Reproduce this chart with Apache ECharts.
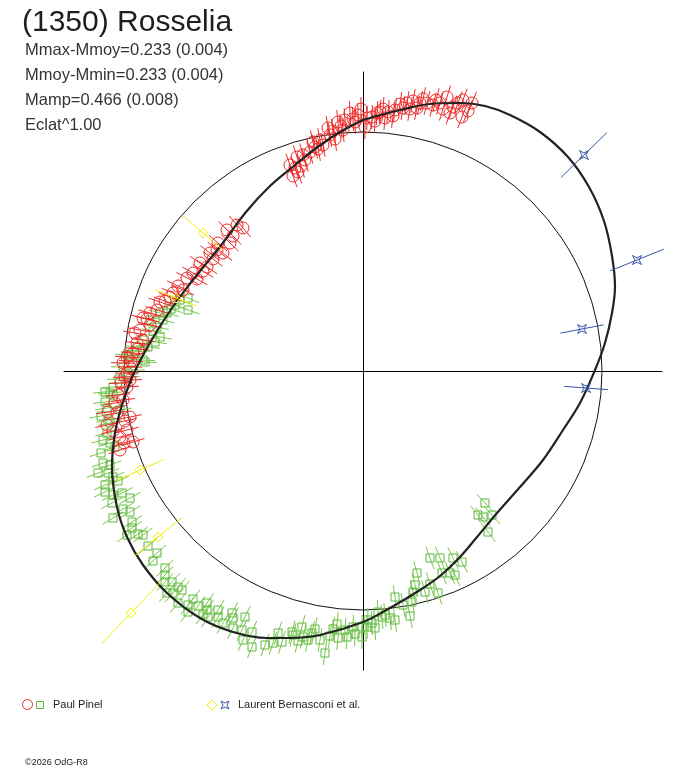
<!DOCTYPE html>
<html>
<head>
<meta charset="utf-8">
<script src="https://cdn.jsdelivr.net/npm/echarts@6/dist/echarts.min.js"></script>
<style>
html,body{margin:0;padding:0;background:#fff;}
#chart{width:688px;height:768px;}
</style>
</head>
<body>
<div id="chart"></div>
<script>
// ---- Data (polar lightcurve plot, units: reference circle radius = 239) ----
const title = "(1350) Rosselia";
const infoLines = ["Mmax-Mmoy=0.233 (0.004)", "Mmoy-Mmin=0.233 (0.004)", "Mamp=0.466 (0.008)", "Eclat^1.00"];
const observers = ["Paul Pinel", "Laurent Bernasconi et al."];
const copyright = "\u00A92026 OdG-R8";

const refRadius = 239;
const axisExtent = 299;
const pinelErr = 12;

// Paul Pinel, session 1 (red circles) [x, y]
const redPoints = [
  [-68,203],[-73,206],[-65,199],[-66,214],[-60,216],[-53,219],[-50,229],[-43,231],[-45,222],[-33,236],
  [-35,243],[-25,249],[-18,251],[-13,258],[-5,256],[2,244],[4,253],[9,254],[17,259],[25,259],
  [32,261],[40,263],[37,267],[44,268],[50,270],[57,268],[64,268],[70,266],[77,268],[84,274],
  [87,258],[90,264],[99,254],[100,271],[109,268],[-20,241],[-40,226],[-58,211],[-8,249],[22,253],[54,263],
  [-70,195],[-62,205],[-48,224],[-30,240],[-22,245],[-10,252],[12,250],[20,262],[30,255],[47,262],
  [60,272],[73,271],[80,262],[95,268],[105,260],[-28,232],[-2,262],[14,258],
  [-120,143],[-126,146],[-136,141],[-133,128],[-146,121],[-140,118],[-153,118],[-163,108],[-156,104],[-170,98],
  [-176,93],[-180,81],[-193,74],[-203,69],[-206,61],[-213,58],[-220,53],[-213,46],[-223,41],[-220,31],
  [-226,28],[-230,18],[-236,14],[-240,8],[-233,4],[-238,-6],[-236,-16],[-233,-9],
  [-130,135],[-145,128],[-150,112],[-160,100],[-166,92],[-185,85],[-190,78],[-198,70],[-216,52],[-228,38],
  [-225,22],[-232,10],[-236,-2],[-242,-12],
  [-255,-41],[-246,-42],[-233,-46],[-256,-54],[-236,-59],[-243,-66],[-230,-71],[-243,-79],[-240,-29],[-245,-24],
  [-248,-32],[-238,-50],[-250,-60],[-239,-72]
];

// Paul Pinel, session 2 (green squares) [x, y]
const greenPoints = [
  [-175,73],[-183,71],[-175,61],[-188,66],[-196,58],[-203,58],[-200,51],[-206,44],[-213,51],[-203,34],
  [-208,29],[-220,31],[-215,24],[-226,24],[-218,9],[-220,11],[-236,16],[-233,14],[-240,4],[-230,1],
  [-235,-6],[-258,-21],[-253,-22],[-250,-16],[-250,-24],[-258,-31],[-256,-37],[-243,-39],[-255,-49],[-253,-52],
  [-256,-62],[-253,-72],[-260,-69],[-248,-76],[-260,-92],[-253,-94],[-265,-102],[-255,-102],[-250,-106],[-258,-114],
  [-258,-121],[-250,-124],[-241,-122],[-233,-127],[-251,-132],[-233,-141],[-250,-147],[-231,-151],[-231,-157],[-236,-164],
  [-225,-163],[-220,-164],[-206,-182],[-198,-197],[-198,-204],[-198,-211],[-191,-211],[-196,-222],[-190,-222],[-181,-219],
  [-185,-232],[-175,-234],[-175,-241],[-165,-235],[-156,-232],[-156,-239],[-155,-246],[-145,-239],[-145,-246],[-131,-242],
  [-130,-247],[-118,-246],[-130,-257],[-121,-259],[-111,-261],[-120,-269],[-111,-276],[-98,-274],[-90,-272],[-81,-271],
  [-71,-261],[-61,-256],[-70,-264],[-60,-266],[-51,-262],[-55,-269],[-43,-269],[-38,-282],[-33,-265],[-26,-253],
  [-25,-267],[-16,-266],[-18,-259],[-10,-256],[-1,-266],[-1,-256],[4,-256],[12,-257],[9,-252],[15,-241],
  [19,-246],[27,-247],[32,-249],[22,-244],[32,-226],[40,-234],[47,-245],[49,-231],[50,-221],[52,-214],
  [54,-202],[62,-221],[67,-213],[75,-222],[67,-187],[77,-187],[79,-202],[87,-202],[90,-187],[92,-204],
  [99,-191],[122,-132],[120,-146],[129,-144],[125,-161],[115,-144],
  [-85,-262],[-65,-270],[-48,-258],[-30,-258],[-8,-263],[5,-249],[-140,-252],[-160,-243],[-170,-228],[-185,-216],
  [-210,-190],[-215,-175],[-240,-138],[-245,-110],[-262,-82],[-192,62],[-210,40],[-228,20],[-244,-8],[-262,-45]
];

// Laurent Bernasconi et al. (yellow diamonds) [x, y, error]
const yellowPoints = [
  [-160,138,26],[-187,73,22],[-223,-99,26],[-205,-166,31],[-232,-242,43]
];

// Laurent Bernasconi et al. (blue stars) [x, y, error]
const bluePoints = [
  [221,216,32],[274,111,29],[219,42,22],[223,-17,22]
];

// Fitted lightcurve [x, y]
const fitCurve = [
  [0,251],[37,261],[67,267],[97,268],[122,265],[147,256],[177,239],[205,214],[226,184],[241,150],
  [249,115],[252,84],[249,58],[242,28],[232,1],[217,-32],[200,-59],[180,-89],[157,-116],[134,-142],
  [114,-166],[97,-186],[77,-205],[57,-219],[27,-237],[0,-251],[-43,-264],[-73,-267],[-96,-267],[-130,-261],
  [-163,-247],[-196,-222],[-220,-194],[-236,-166],[-246,-136],[-251,-96],[-248,-62],[-241,-34],[-232,-9],[-222,12],
  [-209,35],[-191,63],[-174,86],[-158,106],[-141,127],[-117,159],[-93,185],[-68,206],[-44,225],[-23,239],[0,251]
];

// ---- Styles ----
const RED = '#ee2a2a';
const GREEN = '#5cb83c';
const GREEN_BAR = '#78c846';
const YELLOW = '#f2ee00';
const BLUE = '#3a58a8';
const FONT = '"Liberation Sans", Arial, sans-serif';

function shapeFor(kind, cx, cy, color) {
  if (kind === 'circle') {
    return { type: 'circle', shape: { cx: cx, cy: cy, r: 6 }, style: { fill: null, stroke: color, lineWidth: 1 } };
  }
  if (kind === 'square') {
    return { type: 'rect', shape: { x: cx - 4, y: cy - 4, width: 8, height: 8 }, style: { fill: null, stroke: color, lineWidth: 1 } };
  }
  if (kind === 'diamond') {
    const h = 5;
    return { type: 'polygon', shape: { points: [[cx, cy - h], [cx + h, cy], [cx, cy + h], [cx - h, cy]] }, style: { fill: null, stroke: color, lineWidth: 1 } };
  }
  const s = 4.5, q = 2;
  return { type: 'polygon', shape: { points: [[cx - s, cy - s], [cx, cy - q], [cx + s, cy - s], [cx + q, cy], [cx + s, cy + s], [cx, cy + q], [cx - s, cy + s], [cx - q, cy]] }, style: { fill: null, stroke: color, lineWidth: 1 } };
}

function pointRenderer(kind, color, barColor, fixedErr) {
  return function (params, api) {
    const x = api.value(0), y = api.value(1);
    const e = fixedErr != null ? fixedErr : api.value(2);
    const len = Math.hypot(x, y) || 1;
    const ux = x / len, uy = y / len;
    const p = api.coord([x, y]);
    const a = api.coord([x - ux * e, y - uy * e]);
    const b = api.coord([x + ux * e, y + uy * e]);
    return {
      type: 'group',
      children: [
        { type: 'line', shape: { x1: a[0], y1: a[1], x2: b[0], y2: b[1] }, style: { stroke: barColor, lineWidth: 1 } },
        shapeFor(kind, p[0], p[1], color)
      ]
    };
  };
}

const chart = echarts.init(document.getElementById('chart'), null, { renderer: 'canvas' });

const axisCommon = {
  type: 'value', min: -axisExtent, max: axisExtent,
  axisLine: { show: true, onZero: true, lineStyle: { color: '#000', width: 1 } },
  axisTick: { show: false }, axisLabel: { show: false }, splitLine: { show: false }
};

const option = {
  backgroundColor: '#fff',
  animation: false,
  grid: { left: 64, top: 72, width: 598, height: 598, containLabel: false },
  xAxis: Object.assign({}, axisCommon),
  yAxis: Object.assign({}, axisCommon),
  series: [
    {
      type: 'custom', z: 1, silent: true,
      data: [[0, 0, refRadius]],
      renderItem: function (params, api) {
        const c = api.coord([api.value(0), api.value(1)]);
        const r = api.size([api.value(2), 0])[0];
        return { type: 'circle', shape: { cx: c[0], cy: c[1], r: r }, style: { fill: null, stroke: '#111', lineWidth: 1 } };
      }
    },
    { type: 'custom', z: 2, silent: true, data: greenPoints, renderItem: pointRenderer('square', GREEN, GREEN_BAR, pinelErr) },
    { type: 'custom', z: 3, silent: true, data: redPoints, renderItem: pointRenderer('circle', RED, RED, pinelErr) },
    {
      type: 'line', z: 4, silent: true, data: fitCurve, smooth: 0.35, showSymbol: false, symbol: 'none',
      lineStyle: { color: '#222', width: 2.2 }
    },
    { type: 'custom', z: 5, silent: true, data: yellowPoints, renderItem: pointRenderer('diamond', YELLOW, YELLOW, null) },
    { type: 'custom', z: 5, silent: true, data: bluePoints, renderItem: pointRenderer('star', BLUE, BLUE, null) }
  ],
  graphic: [
    { type: 'text', left: 22, top: 8, style: { text: title, font: '30px ' + FONT, fill: '#1e1e1e' } },
    { type: 'text', x: 25, y: 50, style: { text: infoLines[0], font: '16.5px ' + FONT, fill: '#333', verticalAlign: 'middle' } },
    { type: 'text', x: 25, y: 75, style: { text: infoLines[1], font: '16.5px ' + FONT, fill: '#333', verticalAlign: 'middle' } },
    { type: 'text', x: 25, y: 100, style: { text: infoLines[2], font: '16.5px ' + FONT, fill: '#333', verticalAlign: 'middle' } },
    { type: 'text', x: 25, y: 125, style: { text: infoLines[3], font: '16.5px ' + FONT, fill: '#333', verticalAlign: 'middle' } },
    { type: 'circle', shape: { cx: 27.5, cy: 704.5, r: 5 }, style: { fill: null, stroke: RED, lineWidth: 1 } },
    { type: 'rect', shape: { x: 36.5, y: 701.5, width: 7, height: 7 }, style: { fill: null, stroke: GREEN, lineWidth: 1 } },
    { type: 'text', x: 53, y: 705, style: { text: observers[0], font: '11px ' + FONT, fill: '#222', verticalAlign: 'middle' } },
    { type: 'polygon', shape: { points: [[212, 700], [217, 705], [212, 710], [207, 705]] }, style: { fill: null, stroke: YELLOW, lineWidth: 1 } },
    { type: 'polygon', shape: { points: [[221, 701], [225, 703], [229, 701], [227, 705], [229, 709], [225, 707], [221, 709], [223, 705]] }, style: { fill: null, stroke: BLUE, lineWidth: 1 } },
    { type: 'text', x: 238, y: 705, style: { text: observers[1], font: '11px ' + FONT, fill: '#222', verticalAlign: 'middle' } },
    { type: 'text', x: 25, y: 763, style: { text: copyright, font: '9px ' + FONT, fill: '#222', verticalAlign: 'middle' } }
  ]
};

chart.setOption(option);
</script>
</body>
</html>
